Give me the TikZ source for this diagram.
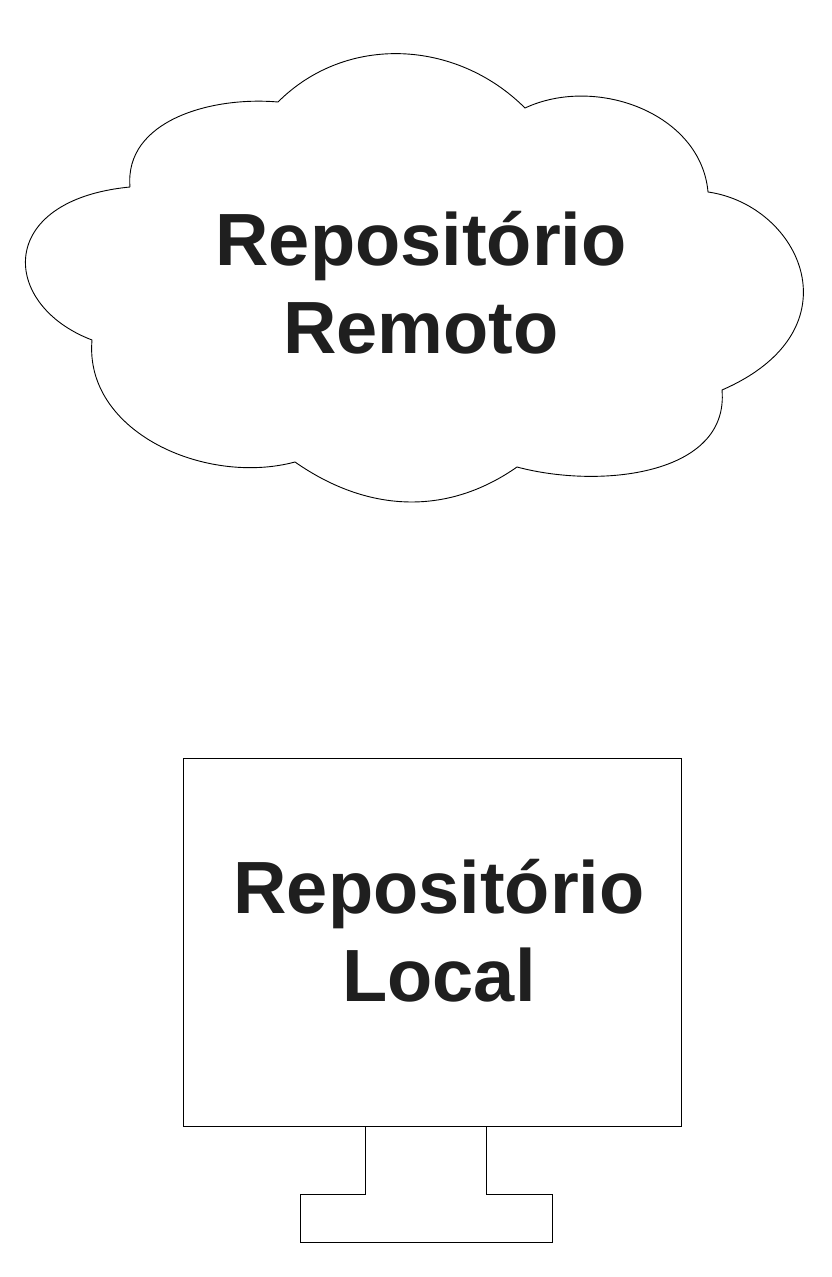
\documentclass[tikz,border=0pt]{standalone}
\usepackage{fontspec}
\setmainfont{Liberation Sans}
\begin{document}
\begin{tikzpicture}[x=1pt,y=-1pt,line width=0.9pt,
  lbl/.style={font=\fontsize{74}{88}\selectfont\bfseries,text=black!88,align=center}]
\useasboundingbox (0,0) rectangle (832,1277);
\draw (130,187) to[out=95,in=175] (278,102)
  to[out=45,in=135] (525,108)
  to[out=25,in=95] (708,192)
  .. controls (800,205) and (860,330) .. (722,390)
  to[out=-85,in=-15] (517,467)
  to[out=-145,in=-35] (295,462)
  to[out=-165,in=-95] (92,340)
  .. controls (0,305) and (-5,200) .. (130,187);
\node[lbl] (cloud) at (421,283) {Repositório\\Remoto};
\draw (183,758) rectangle (681,1126);
\node[lbl] (local) at (439,931) {Repositório\\Local};
\draw (365,1126) -- (365,1194) -- (300,1194) -- (300,1242) -- (552,1242) -- (552,1194) -- (486,1194) -- (486,1126);
\end{tikzpicture}
\end{document}
